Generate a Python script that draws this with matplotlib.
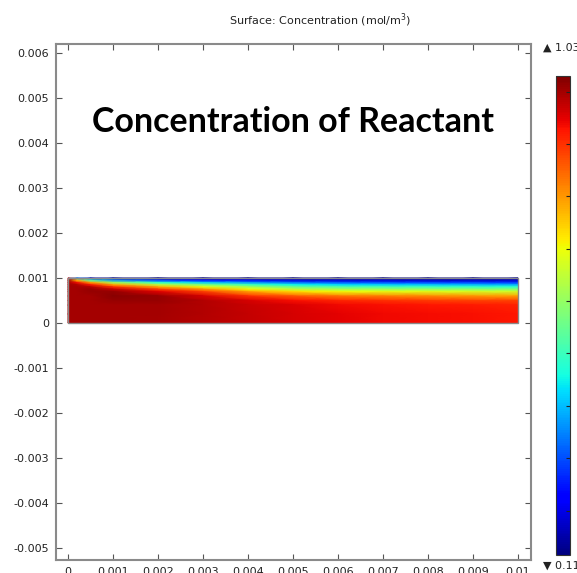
import numpy as np
import matplotlib
matplotlib.use("Agg")
import matplotlib.pyplot as plt
from matplotlib.patches import Rectangle

# Sample positions in the channel (mm)
x_mm = [0.0, 0.2, 0.5, 1.0, 2.0, 3.0, 4.0, 5.0, 6.0, 7.0, 8.0, 9.0, 10.0]
y_mm = [1.0, 0.95, 0.9, 0.85, 0.8, 0.75, 0.7, 0.6, 0.5, 0.4, 0.2, 0.0]

# Concentration (mol/m^3): one row per y level (top to bottom), one column per x
conc_y100 = [0.98, 0.35, 0.16, 0.13, 0.12, 0.12, 0.12, 0.12, 0.12, 0.12, 0.12, 0.12, 0.12]
conc_y095 = [1.00, 0.75, 0.50, 0.35, 0.27, 0.23, 0.21, 0.19, 0.18, 0.18, 0.17, 0.17, 0.17]
conc_y090 = [1.00, 0.93, 0.78, 0.60, 0.47, 0.41, 0.36, 0.32, 0.30, 0.29, 0.28, 0.28, 0.27]
conc_y085 = [1.00, 0.99, 0.92, 0.78, 0.63, 0.56, 0.50, 0.45, 0.42, 0.41, 0.40, 0.39, 0.38]
conc_y080 = [1.00, 1.00, 0.99, 0.90, 0.78, 0.69, 0.61, 0.55, 0.52, 0.51, 0.50, 0.49, 0.48]
conc_y075 = [1.00, 1.00, 1.01, 0.97, 0.88, 0.80, 0.70, 0.64, 0.61, 0.60, 0.59, 0.58, 0.57]
conc_y070 = [1.00, 1.00, 1.01, 1.01, 0.95, 0.88, 0.79, 0.73, 0.70, 0.69, 0.68, 0.67, 0.66]
conc_y060 = [1.00, 1.00, 1.00, 1.02, 1.01, 0.96, 0.90, 0.86, 0.83, 0.82, 0.81, 0.80, 0.79]
conc_y050 = [1.00, 1.00, 1.00, 1.01, 1.01, 0.99, 0.96, 0.93, 0.91, 0.90, 0.89, 0.88, 0.88]
conc_y040 = [1.00, 1.00, 1.00, 1.00, 1.00, 0.99, 0.97, 0.955, 0.94, 0.93, 0.925, 0.92, 0.915]
conc_y020 = [1.00, 1.00, 1.00, 1.00, 1.00, 0.99, 0.975, 0.96, 0.95, 0.94, 0.935, 0.93, 0.925]
conc_y000 = [1.00, 1.00, 1.00, 1.00, 0.995, 0.985, 0.975, 0.96, 0.95, 0.94, 0.935, 0.93, 0.925]

c_min, c_max = 0.115, 1.03

x_ticks = [0, 0.001, 0.002, 0.003, 0.004, 0.005, 0.006, 0.007, 0.008, 0.009, 0.01]
x_labels = ["0", "0.001", "0.002", "0.003", "0.004", "0.005", "0.006",
            "0.007", "0.008", "0.009", "0.01"]
y_ticks = [0.006, 0.005, 0.004, 0.003, 0.002, 0.001, 0, -0.001, -0.002,
           -0.003, -0.004, -0.005]
y_labels = ["0.006", "0.005", "0.004", "0.003", "0.002", "0.001", "0",
            "-0.001", "-0.002", "-0.003", "-0.004", "-0.005"]
cbar_ticks = [0.2, 0.3, 0.4, 0.5, 0.6, 0.7, 0.8, 0.9, 1.0]

W, H = 577, 573
fig = plt.figure(figsize=(W / 100, H / 100), dpi=100)

ax = fig.add_axes([56 / W, 1 - 560 / H, 475 / W, 516 / H])

C = np.array([conc_y100, conc_y095, conc_y090, conc_y085, conc_y080, conc_y075,
              conc_y070, conc_y060, conc_y050, conc_y040, conc_y020, conc_y000])
X, Y = np.meshgrid(np.array(x_mm) * 1e-3, np.array(y_mm) * 1e-3)
mesh = ax.pcolormesh(X, Y, C, shading="gouraud", cmap="jet",
                     vmin=c_min, vmax=c_max, rasterized=True)
ax.add_patch(Rectangle((0, 0), 0.01, 0.001, fill=False, edgecolor="#8a8a8a",
                       linewidth=1.0, zorder=3))

ax.set_xlim(-0.000267, 0.010289)
ax.set_ylim(-0.005267, 0.0062)
ax.set_xticks(x_ticks)
ax.set_xticklabels(x_labels)
ax.set_yticks(y_ticks)
ax.set_yticklabels(y_labels)
ax.tick_params(axis="both", direction="in", length=4, width=0.8,
               colors="#555555", labelcolor="#222222", labelsize=8,
               top=True, right=True, pad=5)
for s in ax.spines.values():
    s.set_color("#8a8a8a")
    s.set_linewidth(1.5)

fig.text(320 / W, 1 - 20 / H, "Surface: Concentration (mol/m$^3$)",
         ha="center", va="center", fontsize=8, color="#222222")
ax.text(0.5, 1 - (122 - 44) / 516, "Concentration of Reactant",
        transform=ax.transAxes, ha="center", va="center",
        fontsize=24.5, fontweight="bold", family="Lato", color="black")

# Colour legend
cax = fig.add_axes([556 / W, 1 - 555 / H, 14 / W, 479 / H])
cb = fig.colorbar(mesh, cax=cax, ticks=cbar_ticks)
cb.outline.set_edgecolor("#333333")
cb.outline.set_linewidth(0.8)
cax.tick_params(direction="in", length=3, width=0.8, colors="#222222",
                labelright=False)
fig.text(543 / W, 1 - 48 / H, "\u25b2 %.2f" % c_max, ha="left", va="center",
         fontsize=8, color="#222222")
fig.text(543 / W, 1 - 566 / H, "\u25bc %.3f" % c_min, ha="left", va="center",
         fontsize=8, color="#222222")

fig.savefig("out.png", dpi=100)
